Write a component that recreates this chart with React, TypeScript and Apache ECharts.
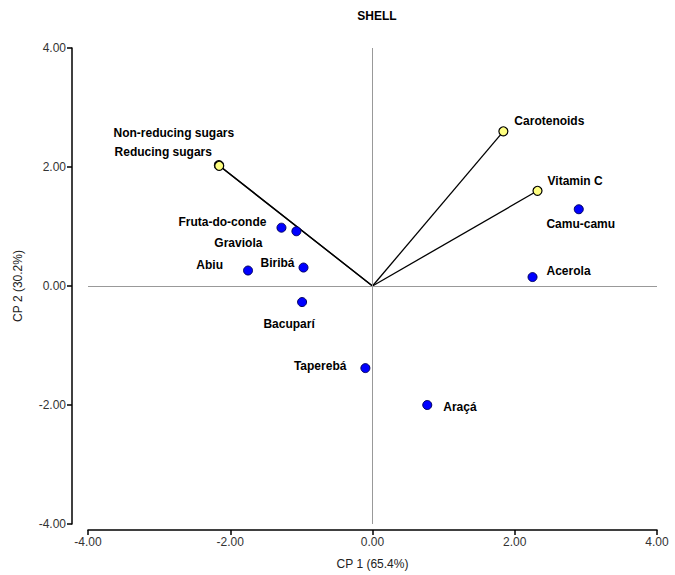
import React, { useEffect, useRef } from "react";
import * as echarts from "echarts";

const fruitNames = ["Camu-camu", "Acerola", "Fruta-do-conde", "Graviola", "Biribá", "Abiu", "Bacuparí", "Taperebá", "Araçá"];
const fruitCP1 = [2.9, 2.25, -1.28, -1.07, -0.97, -1.75, -0.99, -0.1, 0.77];
const fruitCP2 = [1.29, 0.15, 0.98, 0.92, 0.31, 0.26, -0.27, -1.38, -2.0];

const varNames = ["Carotenoids", "Vitamin C", "Non-reducing sugars", "Reducing sugars"];
const varCP1 = [1.84, 2.32, -2.16, -2.155];
const varCP2 = [2.6, 1.6, 2.03, 2.02];

const axisMin = -4;
const axisMax = 4;
const axisStep = 2;

const titleText = "SHELL";
const xName = "CP 1 (65.4%)";
const yName = "CP 2 (30.2%)";

// label placement (style only): [align, dx, dy] relative to point centre
const labelLayout: Record<string, [string, number, number]> = {
  "Carotenoids": ["left", 11, -10],
  "Vitamin C": ["left", 10, -10],
  "Non-reducing sugars": ["center", -45, -32],
  "Reducing sugars": ["center", -56, -14],
  "Camu-camu": ["center", 2, 15],
  "Acerola": ["left", 14, -6],
  "Fruta-do-conde": ["right", -15, -6],
  "Graviola": ["right", -34, 12],
  "Biribá": ["right", -9, -5],
  "Abiu": ["right", -25, -6],
  "Bacuparí": ["center", -13, 22],
  "Taperebá": ["right", -19, -2],
  "Araçá": ["left", 16, 2],
};

const FONT = "Liberation Sans, Arial, sans-serif";

function labelFor(name: string) {
  const [align, dx, dy] = labelLayout[name];
  return {
    show: true,
    formatter: name,
    position: "inside",
    align,
    verticalAlign: "middle",
    offset: [dx, dy],
    color: "#000",
    fontFamily: FONT,
    fontSize: 12,
    fontWeight: "bold",
  };
}

export default function App() {
  const ref = useRef<HTMLDivElement>(null);
  useEffect(() => {
    if (!ref.current) return;
    const chart = echarts.init(ref.current, null, { renderer: "svg" });

    const vectorSeries = varNames.map((n, i) => ({
      type: "line",
      name: n + "-vec",
      data: [[0, 0], [varCP1[i], varCP2[i]]],
      symbol: "none",
      lineStyle: { color: "#000", width: 1.3 },
      z: 3,
      silent: true,
    }));

    const option: any = {
      animation: false,
      backgroundColor: "#fff",
      title: {
        text: titleText,
        left: 372,
        top: 5,
        textAlign: "center",
        textStyle: { fontFamily: FONT, fontSize: 12, fontWeight: "bold", color: "#000" },
      },
      grid: { left: 88, right: 18, top: 48, bottom: 49 },
      xAxis: {
        type: "value",
        min: axisMin,
        max: axisMax,
        interval: axisStep,
        offset: 6,
        name: xName,
        nameLocation: "middle",
        nameGap: 28,
        nameTextStyle: { fontFamily: FONT, fontSize: 12, color: "#222" },
        axisLine: { show: true, onZero: false, lineStyle: { color: "#000", width: 1.5 } },
        axisTick: { show: true, length: 5, lineStyle: { color: "#000", width: 1.5 } },
        axisLabel: { fontFamily: FONT, fontSize: 12, color: "#333", margin: 6, formatter: (v: number) => v.toFixed(2) },
        splitLine: { show: false },
      },
      yAxis: {
        type: "value",
        min: axisMin,
        max: axisMax,
        interval: axisStep,
        offset: 16,
        name: yName,
        nameLocation: "middle",
        nameGap: 48,
        nameTextStyle: { fontFamily: FONT, fontSize: 12, color: "#222" },
        axisLine: { show: true, onZero: false, lineStyle: { color: "#000", width: 1.5 } },
        axisTick: { show: true, length: 5, lineStyle: { color: "#000", width: 1.5 } },
        axisLabel: { fontFamily: FONT, fontSize: 12, color: "#333", margin: 6, formatter: (v: number) => v.toFixed(2) },
        splitLine: { show: false },
      },
      series: [
        {
          type: "line",
          name: "zero",
          data: [],
          symbol: "none",
          markLine: {
            silent: true,
            symbol: "none",
            label: { show: false },
            lineStyle: { color: "#999", width: 1, type: "solid" },
            data: [{ xAxis: 0 }, { yAxis: 0 }],
          },
          z: 1,
        },
        ...vectorSeries,
        {
          type: "scatter",
          name: "variables",
          symbolSize: 9,
          itemStyle: { color: "#ffff80", borderColor: "#000", borderWidth: 1.2, opacity: 1 },
          data: varNames.map((n, i) => ({ value: [varCP1[i], varCP2[i]], label: labelFor(n) })),
          z: 5,
        },
        {
          type: "scatter",
          name: "fruits",
          symbolSize: 9,
          itemStyle: { color: "#0000ff", borderColor: "#000060", borderWidth: 1, opacity: 1 },
          data: fruitNames.map((n, i) => ({ value: [fruitCP1[i], fruitCP2[i]], label: labelFor(n) })),
          z: 5,
        },
      ],
    };
    chart.setOption(option);
    return () => chart.dispose();
  }, []);
  return <div ref={ref} style={{ position: "fixed", left: 0, top: 0, width: 675, height: 575 }} />;
}
